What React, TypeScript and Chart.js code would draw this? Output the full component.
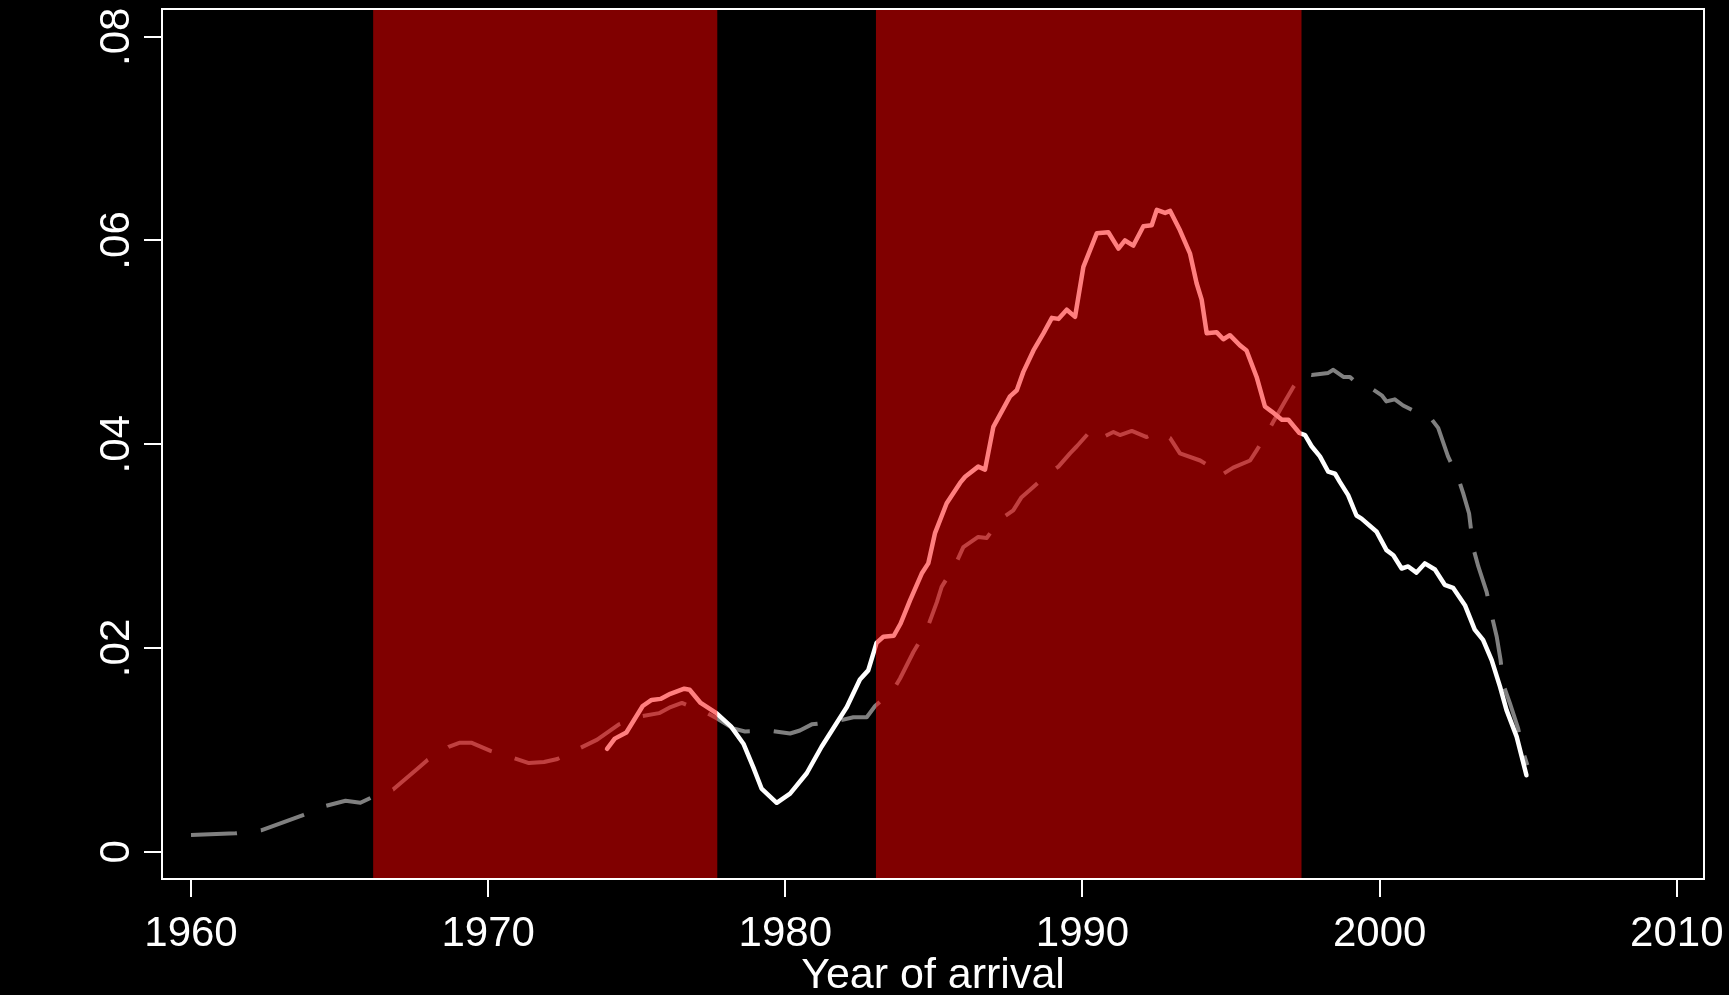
import React, { useEffect, useRef } from "react";
import { Chart, registerables } from "chart.js";

Chart.register(...registerables);

// Solid white series (year of arrival, share)
const solidYears = [
  1974.0, 1974.26, 1974.65, 1975.2, 1975.5, 1975.8, 1976.13, 1976.6, 1976.78, 1977.15,
  1977.68, 1978.17, 1978.59, 1978.92, 1979.2, 1979.71, 1980.16, 1980.72, 1981.22, 1981.61,
  1982.07, 1982.51, 1982.79, 1983.07, 1983.3, 1983.65, 1983.88, 1984.2, 1984.59, 1984.81,
  1985.04, 1985.43, 1985.88, 1986.05, 1986.49, 1986.72, 1987.0, 1987.56, 1987.79, 1988.01,
  1988.35, 1988.69, 1988.97, 1989.19, 1989.47, 1989.75, 1990.03, 1990.48, 1990.87, 1991.21,
  1991.43, 1991.71, 1992.05, 1992.33, 1992.5, 1992.78, 1992.95, 1993.28, 1993.62, 1993.84,
  1994.01, 1994.18, 1994.51, 1994.74, 1994.96, 1995.3, 1995.52, 1995.86, 1996.14, 1996.37,
  1996.71, 1996.93, 1997.3, 1997.49, 1997.71, 1997.99, 1998.27, 1998.5, 1998.66, 1998.94,
  1999.22, 1999.39, 1999.9, 2000.23, 2000.46, 2000.74, 2000.96, 2001.24, 2001.52, 2001.86,
  2002.19, 2002.47, 2002.87, 2003.2, 2003.48, 2003.77, 2004.05, 2004.27, 2004.61, 2004.94,
];
const solidValues = [
  0.0101, 0.0111, 0.0117, 0.0143, 0.0149, 0.015, 0.0155, 0.016, 0.0159, 0.0146,
  0.0136, 0.0123, 0.0106, 0.0083, 0.0062, 0.0048, 0.0057, 0.0077, 0.0103, 0.0121,
  0.0142, 0.0169, 0.0178, 0.0205, 0.0211, 0.0212, 0.0224, 0.0247, 0.0273, 0.0283,
  0.0313, 0.0342, 0.0362, 0.0368, 0.0378, 0.0375, 0.0417, 0.0447, 0.0453, 0.0471,
  0.0492, 0.0509, 0.0524, 0.0523, 0.0532, 0.0525, 0.0574, 0.0607, 0.0608, 0.0592,
  0.06, 0.0595, 0.0614, 0.0615, 0.063, 0.0627, 0.0629, 0.061, 0.0587, 0.0558,
  0.0542, 0.0509, 0.051, 0.0503, 0.0507, 0.0497, 0.0492, 0.0466, 0.0437, 0.0432,
  0.0424, 0.0424, 0.0411, 0.0409, 0.0398, 0.0388, 0.0373, 0.0371, 0.0363, 0.035,
  0.033, 0.0327, 0.0314, 0.0296, 0.0291, 0.0278, 0.028, 0.0274, 0.0283, 0.0277,
  0.0262, 0.0259, 0.0242, 0.0218, 0.0208, 0.0188, 0.0162, 0.0139, 0.0113, 0.0075,
];

// Dashed gray series
const dashedYears = [
  1960.0, 1961.5, 1962.36, 1963.77, 1964.54, 1965.2, 1965.7, 1966.06, 1966.8, 1967.64,
  1967.96, 1968.67, 1969.05, 1969.43, 1970.08, 1970.85, 1971.37, 1971.88, 1972.33, 1973.04,
  1973.67, 1974.4, 1975.17, 1975.75, 1976.14, 1976.52, 1977.3, 1977.69, 1978.25, 1978.64,
  1979.43, 1980.16, 1980.49, 1980.89, 1981.73, 1982.29, 1982.74, 1983.02, 1983.64, 1983.86,
  1984.31, 1984.76, 1985.1, 1985.26, 1985.71, 1985.99, 1986.49, 1986.78, 1987.22, 1987.67,
  1987.95, 1988.23, 1988.8, 1989.19, 1989.58, 1989.81, 1990.36, 1990.76, 1991.04, 1991.26,
  1991.66, 1992.16, 1992.5, 1992.95, 1993.28, 1993.96, 1994.24, 1994.51, 1994.74, 1995.07,
  1995.64, 1995.86, 1996.14, 1996.42, 1996.81, 1997.09, 1997.43, 1997.71, 1998.27, 1998.44,
  1998.78, 1999.0, 1999.22, 1999.45, 2000.07, 2000.23, 2000.51, 2000.79, 2001.13, 2001.63,
  2001.97, 2002.3, 2002.64, 2002.81, 2003.01, 2003.15, 2003.32, 2003.6, 2003.77, 2003.94,
  2004.07, 2004.16, 2004.38, 2004.66, 2004.83, 2004.97,
];
const dashedValues = [
  0.00164, 0.0018, 0.0021, 0.0036, 0.0045, 0.005, 0.0048, 0.0053, 0.0061, 0.0082,
  0.009, 0.0103, 0.0107, 0.0107, 0.0099, 0.0092, 0.0087, 0.0088, 0.0091, 0.0101,
  0.011, 0.0125, 0.0133, 0.0136, 0.0142, 0.0146, 0.0137, 0.0131, 0.0121, 0.0118,
  0.0119, 0.0116, 0.0119, 0.0125, 0.0128, 0.0132, 0.0132, 0.0143, 0.0159, 0.017,
  0.0196, 0.0218, 0.0245, 0.026, 0.0281, 0.0299, 0.0309, 0.0308, 0.0326, 0.0335,
  0.0348, 0.0355, 0.037, 0.0378, 0.0391, 0.0398, 0.0416, 0.0408, 0.0412, 0.0409,
  0.0413, 0.0407, 0.0412, 0.0406, 0.0391, 0.0384, 0.0379, 0.038, 0.0371, 0.0377,
  0.0384, 0.0394, 0.0407, 0.0422, 0.0442, 0.0456, 0.047, 0.0468, 0.047, 0.0473,
  0.0466, 0.0466, 0.046, 0.046, 0.0448, 0.0442, 0.0444, 0.0438, 0.0433, 0.0429,
  0.0416, 0.0388, 0.0367, 0.0352, 0.0332, 0.0298, 0.028, 0.0255, 0.0232, 0.0211,
  0.0188, 0.0164, 0.0146, 0.0121, 0.0098, 0.0085,
];

// Shaded periods
const bandStarts = [1966.13, 1983.05];
const bandEnds = [1977.71, 1997.37];

// Axes
const xTicks = [1960, 1970, 1980, 1990, 2000, 2010];
const xTickLabels = ["1960", "1970", "1980", "1990", "2000", "2010"];
const yTicks = [0, 0.02, 0.04, 0.06, 0.08];
const yTickLabels = ["0", ".02", ".04", ".06", ".08"];
const xTitle = "Year of arrival";
const xMin = 1959.024;
const xMax = 2010.915;
const yMin = -0.00268;
const yMax = 0.08272;

const W = 1729;
const H = 995;
const FONT = "'Liberation Sans', Arial, Helvetica, sans-serif";

export default function App() {
  const ref = useRef<HTMLCanvasElement | null>(null);

  useEffect(() => {
    document.body.style.margin = "0";
    document.body.style.background = "#000";
    const canvas = ref.current;
    if (!canvas) return;

    const bandsPlugin = {
      id: "bands",
      afterDatasetsDraw(chart: any) {
        const { ctx, chartArea, scales } = chart;
        const xs = scales.x;
        ctx.save();
        ctx.fillStyle = "rgba(255,0,0,0.5)";
        for (let i = 0; i < bandStarts.length; i++) {
          const a = xs.getPixelForValue(bandStarts[i]);
          const b = xs.getPixelForValue(bandEnds[i]);
          ctx.fillRect(a, chartArea.top, b - a, chartArea.bottom - chartArea.top);
        }
        ctx.restore();
      },
      afterDraw(chart: any) {
        const { ctx, chartArea } = chart;
        ctx.save();
        ctx.strokeStyle = "#ffffff";
        ctx.lineWidth = 2;
        ctx.strokeRect(
          chartArea.left,
          chartArea.top,
          chartArea.right - chartArea.left,
          chartArea.bottom - chartArea.top
        );
        ctx.restore();
      },
    };

    const solidData = solidYears.map((x, i) => ({ x, y: solidValues[i] }));
    const dashedData = dashedYears.map((x, i) => ({ x, y: dashedValues[i] }));

    const chart = new Chart(canvas, {
      type: "line",
      data: {
        datasets: [
          {
            data: solidData,
            borderColor: "#ffffff",
            borderWidth: 4.5,
            pointRadius: 0,
            tension: 0,
            fill: false,
            borderCapStyle: "round",
            borderJoinStyle: "round",
          },
          {
            data: dashedData,
            borderColor: "#808080",
            borderWidth: 4,
            borderDash: [46, 24],
            pointRadius: 0,
            tension: 0,
            fill: false,
            borderCapStyle: "butt",
            borderJoinStyle: "round",
          },
        ],
      },
      options: {
        animation: false,
        responsive: false,
        maintainAspectRatio: false,
        devicePixelRatio: 1,
        layout: { padding: { left: 0, top: 9, right: 25, bottom: 0 } },
        plugins: {
          legend: { display: false },
          tooltip: { enabled: false },
        },
        scales: {
          x: {
            type: "linear",
            min: xMin,
            max: xMax,
            afterBuildTicks: (scale: any) => {
              scale.ticks = xTicks.map((v) => ({ value: v }));
            },
            afterFit: (scale: any) => {
              scale.height = 116;
              scale.paddingLeft = 0;
              scale.paddingRight = 0;
            },
            grid: {
              display: true,
              drawOnChartArea: false,
              drawTicks: true,
              tickLength: 18,
              tickColor: "#ffffff",
              tickWidth: 2,
              color: "#ffffff",
              lineWidth: 2,
            },
            border: { display: false },
            ticks: {
              color: "#ffffff",
              font: { family: FONT, size: 42, lineHeight: 1.2 },
              padding: 12,
              maxRotation: 0,
              minRotation: 0,
              autoSkip: false,
              callback: (_v: any, i: number) => xTickLabels[i],
            },
            title: {
              display: true,
              text: xTitle,
              color: "#ffffff",
              font: { family: FONT, size: 43, lineHeight: 0.9 },
              padding: { top: 0, bottom: 0 },
            },
          },
          y: {
            type: "linear",
            min: yMin,
            max: yMax,
            afterBuildTicks: (scale: any) => {
              scale.ticks = yTicks.map((v) => ({ value: v }));
            },
            afterFit: (scale: any) => {
              scale.width = 162;
              scale.paddingTop = 0;
              scale.paddingBottom = 0;
            },
            grid: {
              display: true,
              drawOnChartArea: false,
              drawTicks: true,
              tickLength: 18,
              tickColor: "#ffffff",
              tickWidth: 2,
              color: "#ffffff",
              lineWidth: 2,
            },
            border: { display: false },
            ticks: {
              color: "#ffffff",
              font: { family: FONT, size: 42, lineHeight: 1.2 },
              padding: -3,
              minRotation: 90,
              maxRotation: 90,
              crossAlign: "center",
              autoSkip: false,
              callback: (_v: any, i: number) => yTickLabels[i],
            },
          },
        },
      },
      plugins: [bandsPlugin],
    } as any);

    return () => {
      chart.destroy();
    };
  }, []);

  return (
    <div
      style={{
        position: "fixed",
        left: 0,
        top: 0,
        width: W,
        height: H,
        background: "#000",
      }}
    >
      <canvas ref={ref} width={W} height={H} style={{ display: "block", width: W, height: H }} />
    </div>
  );
}
